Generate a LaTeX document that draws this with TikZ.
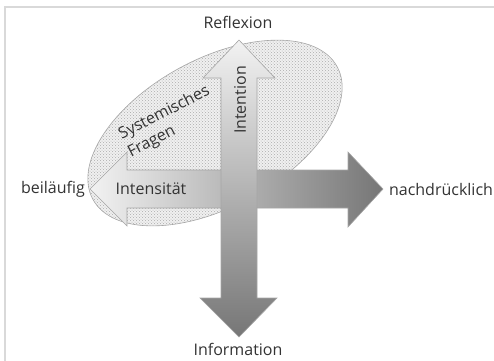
\documentclass[tikz,border=0pt]{standalone}
\usepackage{fontspec}
\setmainfont{Open Sans}
\usepackage{tikz}
\usetikzlibrary{patterns}

\definecolor{framegray}{HTML}{D9D9D9}
\definecolor{edgegray}{HTML}{A6A6A6}
\definecolor{lightend}{HTML}{F2F2F2}
\definecolor{darkend}{HTML}{767676}

\tikzset{
  label/.style={font=\fontsize{16}{20}\selectfont, text=black!80, inner sep=1pt},
  bigarrow/.style={draw=edgegray, line width=0.6pt, line join=miter},
}

\begin{document}
\begin{tikzpicture}[x=1pt, y=-1pt]

    %% Background
    \useasboundingbox (0,0) rectangle (494,360);
    \draw[framegray, line width=2pt] (5,362) |- (496,7);

    % Ellipse
    \draw[edgegray, line width=0.6pt, fill=gray!12,
          postaction={pattern=crosshatch dots, pattern color=gray!65},
          rotate around={28.5:(215,133)}]
    (215,133) ellipse [x radius=139, y radius=74];

    % Horizontal arrow
    \draw[bigarrow, left color=lightend, right color=darkend]
    (90,189) -- (127,152) -- (127,170) -- (348,170) -- (348,152)
    -- (383,189) -- (348,227) -- (348,208) -- (127,208) -- (127,226) -- cycle;

    % Vertical arrow
    \draw[bigarrow, top color=lightend, bottom color=darkend]
    (239,40) -- (275,78) -- (257,78) -- (257,298) -- (277,298)
    -- (239,337) -- (200,298) -- (221,298) -- (221,78) -- (203,78) -- cycle;

    % Labels
    \node[label] (reflexion) at (238,22) {Reflexion};
    \node[label] (information) at (238,349) {Information};
    \node[label] (beilaeufig) at (53,189) {beiläufig};
    \node[label] (nachdruecklich) at (441,189) {nachdrücklich};
    \node[label] (intensitaet) at (151,189) {Intensität};
    \node[label, rotate=90] (intention) at (240,100) {Intention};
    \node[label, rotate=27, align=left] (fragen) at (169,122)
    {Systemisches\\Fragen};

\end{tikzpicture}
\end{document}
